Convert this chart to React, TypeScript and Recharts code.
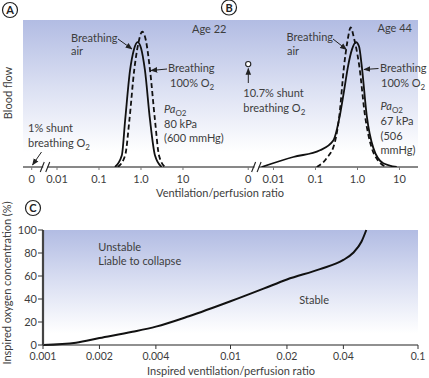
import React from 'react';
import { LineChart, Line, XAxis, YAxis, ReferenceArea, ReferenceDot } from 'recharts';

// ---------- Panel A (Age 22): ventilation/perfusion ratio vs blood flow ----------
const airA_ratio = [0.24, 0.35, 0.42, 0.55, 0.68, 0.83, 1.0, 1.24, 1.64, 2.15, 3.1];
const airA_flow = [0, 8, 32, 66, 80, 85, 81, 66, 32, 8, 0];
const o2A_ratio = [0.28, 0.42, 0.53, 0.69, 0.85, 1.07, 1.31, 1.64, 2.15, 2.68, 3.7];
const o2A_flow = [0, 8, 32, 66, 83, 92, 86, 66, 32, 8, 0];

// ---------- Panel B (Age 44) ----------
const airB_ratio = [0.107, 0.185, 0.29, 0.37, 0.48, 0.58, 0.69, 0.82, 1.1, 1.51, 2.18, 3.08, 5.0];
const airB_flow = [0, 6, 17, 35, 69, 86, 95, 88, 69, 35, 13, 4.5, 0];
const o2B_ratio = [0.0052, 0.0296, 0.128, 0.265, 0.38, 0.48, 0.6, 0.74, 0.92, 1.09, 1.26, 1.66, 2.38, 4.1, 8.6];
const o2B_flow = [0, 6.8, 11.4, 18, 35, 52, 69, 80, 85, 82, 69, 35, 13, 2.5, 0];
const shuntB_flow = 70; // open-circle marker at the "0" position

// ---------- Panel C: inspired V/Q ratio vs inspired O2 concentration ----------
const c_ratio = [0.001, 0.0015, 0.002, 0.003, 0.004, 0.006, 0.01, 0.015, 0.02, 0.03, 0.04, 0.045, 0.05, 0.053];
const c_o2 = [0, 2, 6, 11.5, 16, 25, 38, 49, 57, 66, 74, 80, 90, 100];

// ---------- Tick labels ----------
const ZERO_POS = 0.0025; // position of the "0" tick on the broken log axis
const AB_ticks = [ZERO_POS, 0.01, 0.1, 1, 10];
const AB_tickLabels = ['0', '0.01', '0.1', '1.0', '10'];
const C_xticks = [0.001, 0.002, 0.004, 0.01, 0.02, 0.04, 0.1];
const C_xtickLabels = ['0.001', '0.002', '0.004', '0.01', '0.02', '0.04', '0.1'];
const C_yticks = [0, 20, 40, 60, 80, 100];

const A_DOMAIN: [number, number] = [0.00155, 183];
const B_DOMAIN: [number, number] = [0.00128, 27.6];
const BREAK_A = 0.0057;
const BREAK_B = 0.0043;

const FONT = 'Lato, "Noto Sans", sans-serif';
const TXT = '#3d3d3d';

const pts = (xs: number[], ys: number[]) => xs.map((x, i) => ({ x, y: ys[i] }));

const BreakMark = (p: any) => {
  const { cx, cy } = p;
  if (cx == null || cy == null) return null;
  return (
    <g>
      <rect x={cx - 3.5} y={cy - 1.5} width={4} height={3} fill="#fff" />
      <line x1={cx - 6.5} y1={cy + 5} x2={cx - 2.5} y2={cy - 5} stroke="#222" strokeWidth={1.1} />
      <line x1={cx - 1} y1={cy + 5} x2={cx + 3} y2={cy - 5} stroke="#222" strokeWidth={1.1} />
    </g>
  );
};

const tickStyle = { fill: TXT, fontSize: 11, fontFamily: FONT };
const tickStyleC = { fill: TXT, fontSize: 10.5, fontFamily: FONT };

function PanelVQ(props: {
  left: number; width: number; mLeft: number; domain: [number, number];
  solid: { x: number; y: number }[]; dashed: { x: number; y: number }[]; brk: number; shunt?: number;
}) {
  const { left, width, mLeft, domain, solid, dashed, brk, shunt } = props;
  return (
    <div style={{ position: 'absolute', left, top: 0 }}>
      <LineChart width={width} height={200} margin={{ top: 20, right: 2, left: mLeft, bottom: 0 }}>
        <ReferenceArea x1={domain[0]} x2={domain[1]} y1={0} y2={100} fill="url(#bgGrad)" fillOpacity={1} stroke="none" ifOverflow="visible" />
        <XAxis type="number" dataKey="x" scale="log" domain={domain} allowDataOverflow
          ticks={AB_ticks} tickFormatter={(v: number, i: number) => AB_tickLabels[i]}
          height={33} tickSize={3} tickMargin={5} interval={0}
          axisLine={{ stroke: '#111', strokeWidth: 1 }} tickLine={{ stroke: '#777' }} tick={tickStyle} />
        <YAxis type="number" domain={[0, 100]} allowDataOverflow width={0} tick={false} tickLine={false}
          axisLine={{ stroke: '#111', strokeWidth: 1.2 }} />
        <Line data={solid} dataKey="y" type="monotone" dot={false} stroke="#111" strokeWidth={1.8} isAnimationActive={false} />
        <Line data={dashed} dataKey="y" type="monotone" dot={false} stroke="#111" strokeWidth={1.8} strokeDasharray="5 3" isAnimationActive={false} />
        <ReferenceDot x={brk} y={0} r={1} shape={BreakMark} ifOverflow="visible" />
        {shunt != null && (
          <ReferenceDot x={ZERO_POS} y={shunt} r={2.6} fill="#fff" stroke="#222" strokeWidth={1.1} ifOverflow="visible" />
        )}
      </LineChart>
    </div>
  );
}

const Sub = ({ children }: { children: string }) => (
  <tspan fontSize={8} dy={3}>{children}</tspan>
);

export default function App() {
  return (
    <div style={{ position: 'absolute', left: 0, top: 0, width: 429, height: 378, background: '#fff', fontFamily: FONT }}>
      <svg width={0} height={0} style={{ position: 'absolute' }}>
        <defs>
          <linearGradient id="bgGrad" x1="0" y1="0" x2="0" y2="1">
            <stop offset="0" stopColor="#b2bce3" />
            <stop offset="0.45" stopColor="#dadff2" />
            <stop offset="0.9" stopColor="#ffffff" />
          </linearGradient>
          <marker id="arr" viewBox="0 0 10 10" refX="9" refY="5" markerWidth="7" markerHeight="7" orient="auto">
            <path d="M0,1 L10,5 L0,9 z" fill="#222" />
          </marker>
        </defs>
      </svg>

      <PanelVQ left={0} width={238} mLeft={23} domain={A_DOMAIN}
        solid={pts(airA_ratio, airA_flow)} dashed={pts(o2A_ratio, o2A_flow)} brk={BREAK_A} />
      <PanelVQ left={234} width={186} mLeft={2} domain={B_DOMAIN}
        solid={pts(o2B_ratio, o2B_flow)} dashed={pts(airB_ratio, airB_flow)} brk={BREAK_B} shunt={shuntB_flow} />

      <div style={{ position: 'absolute', left: 0, top: 200 }}>
        <LineChart width={429} height={178} margin={{ top: 30, right: 11, left: 0, bottom: 0 }}>
          <ReferenceArea x1={0.001} x2={0.1} y1={0} y2={100} fill="url(#bgGrad)" fillOpacity={1} stroke="none" />
          <XAxis type="number" dataKey="x" scale="log" domain={[0.001, 0.1]} allowDataOverflow
            ticks={C_xticks} tickFormatter={(v: number, i: number) => C_xtickLabels[i]} interval={0}
            height={33} tickSize={4} tickMargin={3.5}
            axisLine={{ stroke: '#222', strokeWidth: 1.2 }} tickLine={{ stroke: '#333' }} tick={tickStyleC} />
          <YAxis type="number" domain={[0, 100]} ticks={C_yticks} interval={0} width={43} tickSize={5} tickMargin={1}
            axisLine={{ stroke: '#444', strokeWidth: 2.2 }} tickLine={{ stroke: '#333' }} tick={tickStyle} />
          <Line data={pts(c_ratio, c_o2)} dataKey="y" type="monotone" dot={false} stroke="#111" strokeWidth={2} isAnimationActive={false} />
        </LineChart>
      </div>

      <svg width={429} height={378} style={{ position: 'absolute', left: 0, top: 0, pointerEvents: 'none' }}
        fontFamily={FONT} fontSize={11} fill={TXT}>
        {/* panel letters */}
        {[['A', 10, 10], ['B', 229, 7.5], ['C', 33, 208]].map(([t, x, y]) => (
          <g key={t as string}>
            <circle cx={x as number} cy={y as number} r={7.5} fill="#fff" stroke="#222" strokeWidth={1.2} />
            <text x={x as number} y={(y as number) + 4} textAnchor="middle" fontWeight="bold" fontSize={11} fill="#222">{t}</text>
          </g>
        ))}

        {/* axis titles */}
        <text transform="translate(12,93) rotate(-90)" textAnchor="middle">Blood flow</text>
        <text x={220} y={197} textAnchor="middle">Ventilation/perfusion ratio</text>
        <text transform="translate(11,283) rotate(-90)" textAnchor="middle">Inspired oxygen concentration (%)</text>
        <text x={231} y={375} textAnchor="middle">Inspired ventilation/perfusion ratio</text>

        {/* Panel A annotations */}
        <text x={71} y={41.5}>Breathing</text>
        <text x={71} y={55}>air</text>
        <line x1={118} y1={39} x2={132} y2={49} stroke="#222" strokeWidth={1} markerEnd="url(#arr)" />
        <text x={168} y={72}>Breathing</text>
        <text x={170} y={87}>100% O<Sub>2</Sub></text>
        <line x1={167} y1={69} x2={151} y2={70.5} stroke="#222" strokeWidth={1} markerEnd="url(#arr)" />
        <text x={164} y={113}><tspan fontStyle="italic">Pa</tspan><Sub>O2</Sub></text>
        <text x={164} y={128}>80 kPa</text>
        <text x={164} y={142}>(600 mmHg)</text>
        <text x={192} y={33}>Age 22</text>
        <text x={28} y={132}>1% shunt</text>
        <text x={28} y={147}>breathing O<Sub>2</Sub></text>
        <line x1={41.5} y1={152} x2={32.5} y2={165} stroke="#222" strokeWidth={1} markerEnd="url(#arr)" />

        {/* Panel B annotations */}
        <text x={286.5} y={40.7}>Breathing</text>
        <text x={287} y={55}>air</text>
        <line x1={333} y1={39} x2={346.5} y2={49.5} stroke="#222" strokeWidth={1} markerEnd="url(#arr)" />
        <text x={380} y={71.7}>Breathing</text>
        <text x={381} y={87}>100% O<Sub>2</Sub></text>
        <line x1={378.5} y1={68.5} x2={364} y2={69.5} stroke="#222" strokeWidth={1} markerEnd="url(#arr)" />
        <text x={380.5} y={110}><tspan fontStyle="italic">Pa</tspan><Sub>O2</Sub></text>
        <text x={380.5} y={125}>67 kPa</text>
        <text x={380.5} y={140}>(506</text>
        <text x={380.5} y={154}>mmHg)</text>
        <text x={377.5} y={32.3}>Age 44</text>
        <line x1={248.3} y1={83} x2={248.3} y2={68.5} stroke="#222" strokeWidth={1} markerEnd="url(#arr)" />
        <text x={243.3} y={96.7}>10.7% shunt</text>
        <text x={243.3} y={111.7}>breathing O<Sub>2</Sub></text>

        {/* Panel C annotations */}
        <text x={98.3} y={250.5}>Unstable</text>
        <text x={98.3} y={265}>Liable to collapse</text>
        <text x={299.3} y={304}>Stable</text>
      </svg>
    </div>
  );
}
